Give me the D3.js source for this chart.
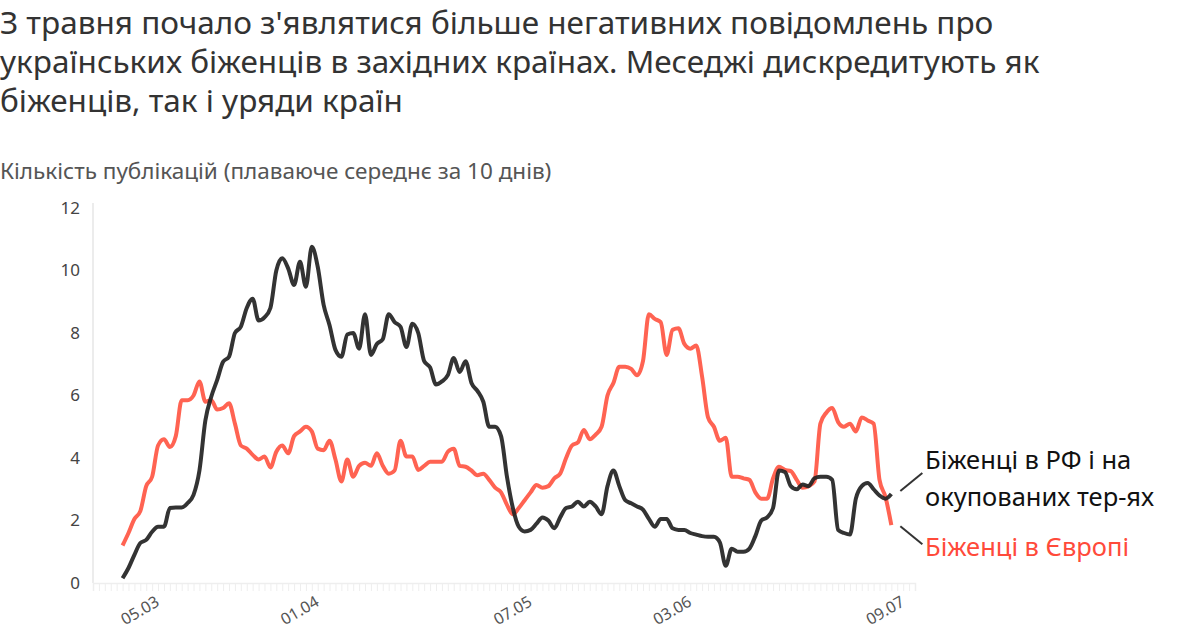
<!DOCTYPE html>
<html>
<head>
<meta charset="utf-8">
<script src="https://cdn.jsdelivr.net/npm/d3@7"></script>
<style>
  body { margin: 0; background: #fff; }
  svg { display: block; font-family: "Noto Sans", sans-serif; }
</style>
</head>
<body>
<div id="chart"></div>
<script>
// data: 10-day moving average, daily from 27.02 to 07.07
const startDate = "27.02.2022";
const seriesRF = [
  0.15, 0.48, 0.9, 1.28, 1.38, 1.64, 1.8, 1.8, 2.4, 2.42,
  2.42, 2.56, 2.82, 3.6, 5.2, 5.96, 6.5, 7.08, 7.24, 8.0,
  8.2, 8.8, 9.1, 8.4, 8.5, 8.8, 10.0, 10.39, 10.07, 9.54,
  10.28, 9.48, 10.76, 10.12, 8.9, 8.25, 7.46, 7.24, 7.95, 8.0,
  7.5, 8.6, 7.3, 7.65, 7.8, 8.6, 8.35, 8.2, 7.55, 8.3,
  8.0, 7.1, 6.9, 6.35, 6.45, 6.65, 7.2, 6.75, 7.1, 6.4,
  6.15, 5.8, 5.0, 5.0, 4.7, 3.4, 2.4, 1.8, 1.65, 1.7,
  1.9, 2.1, 2.0, 1.75, 2.1, 2.4, 2.45, 2.6, 2.45, 2.6,
  2.45, 2.2, 3.1, 3.6, 3.1, 2.65, 2.55, 2.45, 2.35, 2.05,
  1.8, 2.05, 2.05, 1.75, 1.7, 1.7, 1.6, 1.55, 1.5, 1.48,
  1.48, 1.3, 0.55, 1.1, 1.0, 1.0, 1.1, 1.5, 2.0, 2.1,
  2.4, 3.6, 3.55, 3.1, 3.0, 3.15, 3.1, 3.35, 3.4, 3.4,
  3.3, 1.7, 1.6, 1.55, 2.7, 3.1, 3.2, 3.0, 2.8, 2.7,
  2.85
];
const seriesEU = [
  1.2, 1.6, 2.05, 2.3, 3.1, 3.4, 4.4, 4.6, 4.35, 4.7,
  5.85, 5.85, 6.0, 6.45, 5.8, 5.85, 5.55, 5.6, 5.75, 5.1,
  4.4, 4.3, 4.1, 3.95, 4.05, 3.7, 4.2, 4.4, 4.15, 4.7,
  4.85, 5.0, 4.85, 4.3, 4.25, 4.55, 3.95, 3.25, 3.95, 3.4,
  3.75, 3.85, 3.75, 4.15, 3.75, 3.5, 3.6, 4.55, 4.05, 4.05,
  3.62, 3.75, 3.88, 3.88, 3.88, 4.2, 4.3, 3.75, 3.72, 3.6,
  3.45, 3.5, 3.3, 3.05, 2.9, 2.5, 2.2, 2.4, 2.65, 2.9,
  3.14, 3.05, 3.1, 3.35, 3.5, 4.0, 4.4, 4.5, 4.9, 4.6,
  4.75, 5.0, 6.0, 6.4, 6.92, 6.92, 6.85, 6.65, 7.1, 8.6,
  8.45, 8.35, 7.3, 8.1, 8.15, 7.65, 7.5, 7.6, 6.6, 5.3,
  5.0, 4.55, 4.65, 3.4, 3.4, 3.35, 3.3, 2.9, 2.7, 2.7,
  3.35, 3.72, 3.62, 3.58, 3.3, 3.05, 3.1, 3.25, 5.1, 5.45,
  5.6, 5.15, 5.0, 5.1, 4.85, 5.3, 5.2, 5.1, 3.3, 2.76,
  1.85
];
const tickLabels = ["05.03", "01.04", "07.05", "03.06", "09.07"];
const yTicks = [0, 2, 4, 6, 8, 10, 12];
const seriesNames = ["Біженці в РФ і на", "окупованих тер-ях", "Біженці в Європі"];

const width = 1200;
const height = 630;
const parse = d3.utcParse("%d.%m.%Y");
const fmt = d3.utcFormat("%d.%m");
const start = parse(startDate);
const dates = seriesRF.map((_, i) => d3.utcDay.offset(start, i));

const x = d3.scaleUtc()
  .domain([parse("22.02.2022"), parse("11.07.2022")])
  .range([93, 915]);
const y = d3.scaleLinear().domain([0, 12]).range([583, 208]);

const svg = d3.select('#chart')
  .append('svg')
  .attr('width', width)
  .attr('height', height);

// title
const title = [
  "З травня почало з'являтися більше негативних повідомлень про",
  "українських біженців в західних країнах. Меседжі дискредитують як",
  "біженців, так і уряди країн"
];
svg.append('g').selectAll('text')
  .data(title)
  .enter()
  .append('text')
  .attr('x', 0)
  .attr('y', (d, i) => 34 + i * 39)
  .style('font-size', '31.5px')
  .style('fill', '#333')
  .text(d => d);

svg.append('text')
  .attr('x', 0)
  .attr('y', 179)
  .style('font-size', '22.5px')
  .style('fill', '#555')
  .text("Кількість публікацій (плаваюче середнє за 10 днів)");

// y axis
const yAxis = svg.append('g')
  .attr('transform', 'translate(93,0)')
  .call(d3.axisLeft(y).tickValues(yTicks).tickSize(0).tickPadding(13));
yAxis.select('.domain').attr('stroke', '#e6e6e6').attr('stroke-width', 1.5)
  .attr('d', `M0,${y(12) - 5}V${y(0)}`);
yAxis.selectAll('text').style('font-size', '17px').style('fill', '#444')
  .style('font-family', '"Noto Sans", sans-serif');

// x axis: daily ticks, a few labels
const labelSet = new Set(tickLabels);
const xAxis = svg.append('g')
  .attr('transform', `translate(0,${y(0)})`)
  .call(d3.axisBottom(x)
    .ticks(d3.utcDay.every(1))
    .tickSize(8)
    .tickFormat(d => labelSet.has(fmt(d)) ? fmt(d) : ""));
xAxis.select('.domain').attr('stroke', '#eeeeee').attr('stroke-width', 1.5);
xAxis.selectAll('line').attr('stroke', '#eeeeee');
xAxis.selectAll('text')
  .style('font-size', '16px')
  .style('fill', '#555')
  .style('font-family', '"Noto Sans", sans-serif')
  .attr('text-anchor', 'end')
  .attr('dy', null)
  .attr('y', 0)
  .attr('transform', 'translate(2,22) rotate(-30)');

// lines
const line = d3.line()
  .x((d, i) => x(dates[i]))
  .y(d => y(d))
  .curve(d3.curveMonotoneX);

svg.append('path')
  .datum(seriesEU)
  .attr('d', line)
  .attr('fill', 'none')
  .attr('stroke', '#ff6352')
  .attr('stroke-width', 4)
  .attr('stroke-linejoin', 'round');

svg.append('path')
  .datum(seriesRF)
  .attr('d', line)
  .attr('fill', 'none')
  .attr('stroke', '#222')
  .attr('stroke-opacity', 0.92)
  .attr('stroke-width', 4)
  .attr('stroke-linejoin', 'round');

// labels at line ends
const lastRF = seriesRF[seriesRF.length - 1];
const lastEU = seriesEU[seriesEU.length - 1];
const xEnd = x(dates[dates.length - 1]);

svg.append('line')
  .attr('x1', xEnd + 9).attr('y1', y(lastRF) - 3)
  .attr('x2', xEnd + 31).attr('y2', y(lastRF) - 21)
  .attr('stroke', '#333').attr('stroke-width', 2);
svg.append('line')
  .attr('x1', xEnd + 9).attr('y1', y(lastEU) + 1)
  .attr('x2', xEnd + 31).attr('y2', y(lastEU) + 19)
  .attr('stroke', '#333').attr('stroke-width', 2);

svg.append('text')
  .attr('x', 925).attr('y', 469)
  .style('font-size', '25.5px').style('fill', '#111')
  .text(seriesNames[0]);
svg.append('text')
  .attr('x', 925).attr('y', 506)
  .style('font-size', '25.5px').style('fill', '#111')
  .text(seriesNames[1]);
svg.append('text')
  .attr('x', 925).attr('y', 556)
  .style('font-size', '25.5px').style('fill', '#ff4a3a')
  .text(seriesNames[2]);
</script>
</body>
</html>
